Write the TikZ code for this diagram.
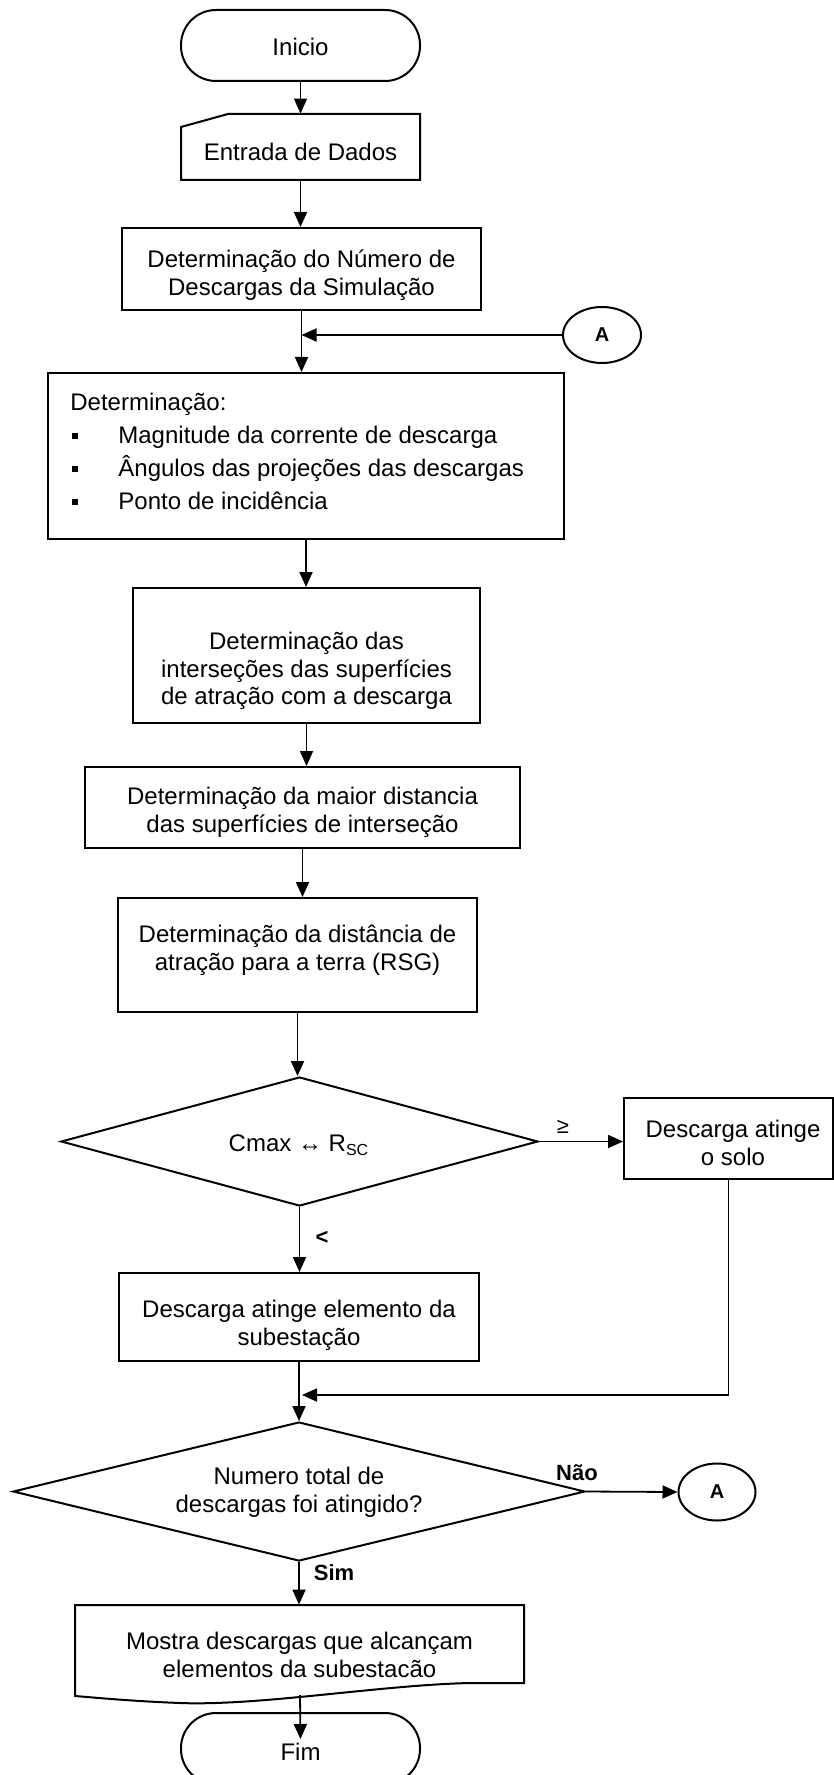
\documentclass[tikz,border=0pt]{standalone}
\usepackage{fontspec}
\setmainfont{Liberation Sans}
\usetikzlibrary{arrows.meta,shapes.geometric}
\newcommand{\tl}[1]{\begin{tabular}[t]{@{}c@{}}#1\end{tabular}}
\begin{document}
\begin{tikzpicture}[x={(0.5pt,0)}, y={(0,-0.5pt)},
  shp/.style={draw, line width=1pt, inner sep=0pt},
  box/.style={shp, rectangle},
  term/.style={shp, rectangle, rounded corners=17.5pt},
  ghost/.style={rectangle, inner sep=0pt},
  conA/.style={shp, ellipse, font=\fontsize{10}{12}\selectfont\bfseries},
  dia/.style={shp, diamond},
  conn/.style={line width=0.9pt, -{Triangle[length=7.5pt,width=6.5pt]}},
  plain/.style={line width=0.9pt},
  txt/.style={inner sep=0pt, anchor=base, font=\fontsize{12}{13.8}\selectfont},
  lbl/.style={inner sep=0pt, font=\fontsize{11}{13}\selectfont\bfseries},
  bul/.style={fill=black, inner sep=0pt, minimum width=3pt, minimum height=3.4pt}]
\useasboundingbox (0,0) rectangle (834,1775);

% Inicio
\node[term, minimum width=119.5pt, minimum height=35.5pt] (inicio) at (300.5,45.5) {};
\node[txt] (tinicio) at (300.5,56) {Inicio};

% Entrada de Dados (manual input)
\node[ghost, minimum width=119.5pt, minimum height=33pt] (entrada) at (300.5,147) {};
\draw[line width=1pt] (181,180) -- (420,180) -- (420,114) -- (228,114) -- (181,127) -- cycle;
\node[txt] (tentrada) at (300.5,160.5) {Entrada de Dados};

% Numero de descargas
\node[box, minimum width=179.5pt, minimum height=41pt] (numero) at (301.5,269) {};
\node[txt] (tnumero) at (301.5,267.5) {\tl{Determinação do Número de\\Descargas da Simulação}};

% Connector A (top)
\node[conA, minimum width=39pt, minimum height=28pt] (a1) at (602,335) {A};

% Determinacao box
\node[box, minimum width=258pt, minimum height=83pt] (det) at (306,456) {};
\node[txt, anchor=base west] (tdet) at (70,410.5) {Determinação:};
\node[bul] (b1) at (75,436) {};
\node[bul] (b2) at (75,469) {};
\node[bul] (b3) at (75,502) {};
\node[txt, anchor=base west] (i1) at (118,443.5) {Magnitude da corrente de descarga};
\node[txt, anchor=base west] (i2) at (118,476.5) {Ângulos das projeções das descargas};
\node[txt, anchor=base west] (i3) at (118,509.5) {Ponto de incidência};

% Intersecoes
\node[box, minimum width=173.5pt, minimum height=67.5pt] (inter) at (306.5,655.5) {};
\node[txt] (tinter) at (306.5,649.5) {\tl{Determinação das\\interseções das superfícies\\de atração com a descarga}};

% Maior distancia
\node[box, minimum width=217.5pt, minimum height=40.5pt] (maior) at (302.5,807.5) {};
\node[txt] (tmaior) at (302.5,804.5) {\tl{Determinação da maior distancia\\das superfícies de interseção}};

% RSG
\node[box, minimum width=179.5pt, minimum height=57pt] (rsg) at (297.5,955) {};
\node[txt] (trsg) at (297.5,942.5) {\tl{Determinação da distância de\\atração para a terra (RSG)}};

% Decision 1
\node[dia, minimum width=238.5pt, minimum height=64.5pt] (d1) at (299.5,1141.5) {};
\node[txt] (td1) at (299,1151.5) {Cmax ↔ R\textsubscript{SC}};

% Solo
\node[box, minimum width=104.5pt, minimum height=40.5pt] (solo) at (728.5,1138.5) {};
\node[txt] (tsolo) at (733,1137.5) {\tl{Descarga atinge\\o solo}};

% Elemento
\node[box, minimum width=180pt, minimum height=44pt] (elem) at (299,1317) {};
\node[txt] (telem) at (299,1317.5) {\tl{Descarga atinge elemento da\\subestação}};

% Decision 2
\node[dia, minimum width=286pt, minimum height=69.5pt] (d2) at (299,1491.5) {};
\node[txt] (td2) at (299,1484.5) {\tl{Numero total de\\descargas foi atingido?}};

% Connector A (bottom)
\node[conA, minimum width=38.5pt, minimum height=28.5pt] (a2) at (717,1492) {A};

% Mostra (document shape)
\node[ghost, minimum width=224.5pt, minimum height=39pt] (mostra) at (299.5,1644) {};
\draw[line width=1pt] (75,1605) -- (524,1605) -- (524,1683) -- (470,1683)
  .. controls (380,1685) and (260,1706) .. (180,1703)
  .. controls (130,1701) and (100,1698) .. (75,1696) -- cycle;
\node[txt] (tmostra) at (299.5,1649.5) {\tl{Mostra descargas que alcançam\\elementos da subestacão}};

% Fim
\node[term, minimum width=119.5pt, minimum height=35.5pt] (fim) at (300.5,1748.5) {};
\node[txt] (tfim) at (300.5,1760) {Fim};

% Connectors
\draw[conn] (inicio.south) -- (inicio.south |- entrada.north);
\draw[conn] (entrada.south) -- (entrada.south |- numero.north);
\draw[conn] (numero.south) -- (numero.south |- det.north);
\draw[conn] (a1.west) -- (a1.west -| numero.south);
\draw[conn] (det.south) -- (det.south |- inter.north);
\draw[conn] (inter.south) -- (inter.south |- maior.north);
\draw[conn] (maior.south) -- (maior.south |- rsg.north);
\draw[conn] (rsg.south) -- (rsg.south |- d1.north);
\draw[conn] (d1.east) -- (d1.east -| solo.west);
\node[inner sep=0pt, font=\fontsize{11}{13}\selectfont] (ge) at (563,1127) {≥};
\draw[conn] (d1.south) -- (d1.south |- elem.north);
\node[lbl] (lt) at (322,1238) {<};
\coordinate (merge) at (302,1395);
\draw[plain] (solo.south) -- (solo.south |- merge);
\draw[conn] (solo.south |- merge) -- (merge);
\draw[conn] (elem.south) -- (elem.south |- d2.north);
\draw[conn] (d2.east) -- (a2.west);
\node[lbl] (nao) at (577,1473) {Não};
\draw[conn] (d2.south) -- (d2.south |- mostra.north);
\node[lbl] (sim) at (334,1573) {Sim};
\coordinate (mw) at (300,1695);
\draw[conn] (mw) -- ([yshift=-13.5pt]fim.north);
\end{tikzpicture}
\end{document}
